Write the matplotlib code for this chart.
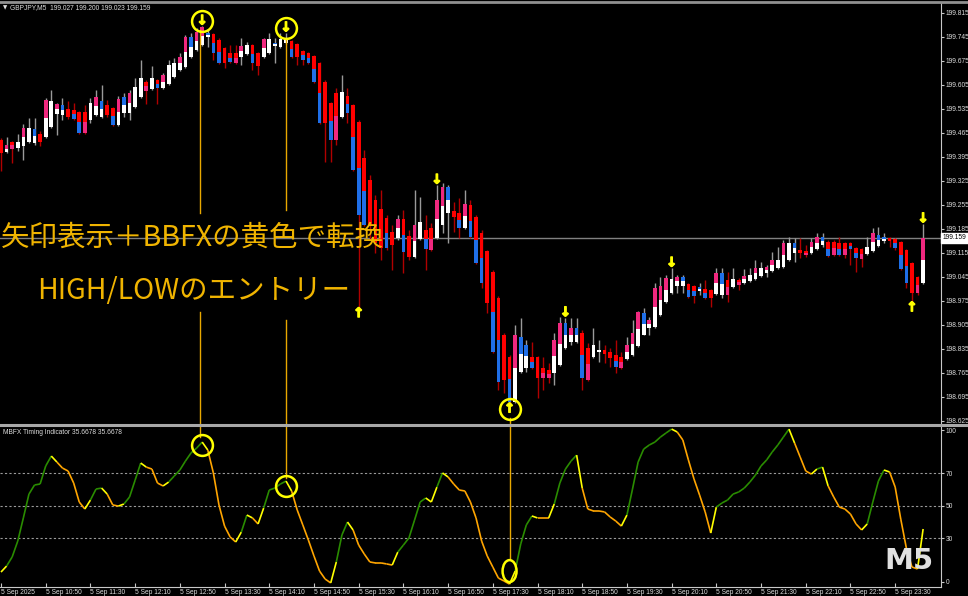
import numpy as np
import matplotlib
matplotlib.use('Agg')
import matplotlib.pyplot as plt
import matplotlib.patheffects as pe
from matplotlib.collections import LineCollection
from matplotlib.patches import Ellipse
from matplotlib.lines import Line2D

plt.rcParams['font.family'] = ['DejaVu Sans']

# GBPJPY M5, 5 Sep 2025 10:10 .. 23:55
opens = [199.445, 199.409, 199.439, 199.421, 199.427, 199.439, 199.436, 199.462, 199.454, 199.483,
         199.520, 199.517, 199.535, 199.532, 199.526, 199.526, 199.503, 199.517, 199.512, 199.547,
         199.538, 199.488, 199.523, 199.523, 199.541, 199.570, 199.614, 199.593, 199.620, 199.596,
         199.608, 199.628, 199.649, 199.658, 199.687, 199.707, 199.722, 199.745, 199.754, 199.736,
         199.713, 199.698, 199.698, 199.687, 199.695, 199.722, 199.698, 199.687, 199.698, 199.719,
         199.716, 199.728, 199.733, 199.725, 199.704, 199.698, 199.690, 199.669, 199.614, 199.552,
         199.582, 199.512, 199.573, 199.547, 199.497, 199.392, 199.328, 199.270, 199.243, 199.217,
         199.176, 199.159, 199.214, 199.165, 199.103, 199.156, 199.182, 199.188, 199.159, 199.197,
         199.232, 199.237, 199.232, 199.188, 199.255, 199.220, 199.174, 199.121, 199.059, 198.984,
         198.876, 198.812, 198.680, 198.768, 198.780, 198.812, 198.812, 198.780, 198.774, 198.765,
         198.788, 198.838, 198.855, 198.855, 198.881, 198.838, 198.812, 198.826, 198.832, 198.826,
         198.817, 198.812, 198.806, 198.817, 198.844, 198.876, 198.896, 198.899, 198.934, 198.972,
         198.998, 199.019, 199.019, 199.025, 199.019, 199.004, 199.010, 199.007, 198.996, 198.993,
         199.036, 199.016, 199.036, 199.028, 199.033, 199.039, 199.048, 199.056, 199.062, 199.071,
         199.074, 199.095, 199.115, 199.124, 199.121, 199.115, 199.127, 199.138, 199.147, 199.147,
         199.144, 199.144, 199.144, 199.130, 199.127, 199.112, 199.121, 199.136, 199.150, 199.159,
         199.156, 199.147, 199.124, 199.086, 199.045, 199.027]
highs = [199.451, 199.454, 199.442, 199.462, 199.491, 199.509, 199.509, 199.471, 199.567, 199.590,
         199.552, 199.567, 199.558, 199.552, 199.529, 199.547, 199.567, 199.590, 199.605, 199.561,
         199.541, 199.573, 199.582, 199.590, 199.626, 199.678, 199.620, 199.660, 199.623, 199.640,
         199.678, 199.684, 199.698, 199.751, 199.757, 199.771, 199.777, 199.765, 199.757, 199.742,
         199.716, 199.722, 199.722, 199.742, 199.730, 199.725, 199.701, 199.742, 199.757, 199.742,
         199.757, 199.757, 199.736, 199.728, 199.707, 199.701, 199.693, 199.672, 199.620, 199.555,
         199.596, 199.634, 199.596, 199.549, 199.503, 199.415, 199.343, 199.284, 199.299, 199.226,
         199.197, 199.226, 199.240, 199.182, 199.299, 199.278, 199.226, 199.203, 199.313, 199.319,
         199.313, 199.264, 199.276, 199.299, 199.270, 199.226, 199.182, 199.124, 199.065, 198.990,
         198.881, 198.817, 198.905, 198.926, 198.861, 198.855, 198.815, 198.812, 198.794, 198.881,
         198.929, 198.926, 198.926, 198.926, 198.890, 198.852, 198.896, 198.861, 198.847, 198.838,
         198.861, 198.826, 198.870, 198.920, 198.946, 198.955, 198.929, 199.028, 199.045, 199.051,
         199.071, 199.051, 199.051, 199.028, 199.022, 199.028, 199.036, 199.010, 199.071, 199.071,
         199.059, 199.071, 199.042, 199.068, 199.071, 199.095, 199.089, 199.080, 199.118, 199.133,
         199.153, 199.162, 199.159, 199.159, 199.138, 199.159, 199.174, 199.174, 199.153, 199.153,
         199.162, 199.147, 199.147, 199.133, 199.130, 199.162, 199.188, 199.191, 199.174, 199.162,
         199.159, 199.150, 199.127, 199.089, 199.048, 199.200]
lows = [199.354, 199.406, 199.377, 199.412, 199.386, 199.436, 199.430, 199.427, 199.451, 199.480,
        199.459, 199.503, 199.506, 199.503, 199.462, 199.462, 199.494, 199.514, 199.509, 199.512,
        199.485, 199.485, 199.512, 199.503, 199.538, 199.567, 199.549, 199.590, 199.549, 199.593,
        199.605, 199.626, 199.646, 199.655, 199.684, 199.704, 199.719, 199.716, 199.678, 199.666,
        199.655, 199.669, 199.666, 199.663, 199.692, 199.649, 199.634, 199.684, 199.695, 199.669,
        199.713, 199.725, 199.684, 199.663, 199.663, 199.666, 199.611, 199.491, 199.380, 199.380,
        199.430, 199.509, 199.494, 199.354, 198.955, 199.194, 199.153, 199.115, 199.095, 199.124,
        199.065, 199.153, 199.056, 199.095, 199.100, 199.153, 199.065, 199.121, 199.156, 199.174,
        199.144, 199.176, 199.159, 199.185, 199.159, 199.083, 199.013, 198.940, 198.823, 198.715,
        198.706, 198.677, 198.677, 198.765, 198.768, 198.777, 198.692, 198.715, 198.736, 198.730,
        198.785, 198.835, 198.847, 198.852, 198.715, 198.742, 198.809, 198.797, 198.794, 198.783,
        198.765, 198.777, 198.803, 198.815, 198.841, 198.876, 198.876, 198.896, 198.931, 198.969,
        198.996, 198.998, 198.998, 198.984, 198.969, 198.993, 198.981, 198.958, 198.993, 198.984,
        198.972, 199.013, 199.007, 199.025, 199.030, 199.036, 199.045, 199.045, 199.059, 199.068,
        199.071, 199.092, 199.089, 199.100, 199.103, 199.112, 199.124, 199.133, 199.103, 199.106,
        199.106, 199.100, 199.080, 199.059, 199.074, 199.109, 199.118, 199.133, 199.144, 199.133,
        199.124, 199.065, 199.013, 198.972, 198.993, 199.023]
closes = [199.406, 199.430, 199.419, 199.439, 199.480, 199.480, 199.477, 199.439, 199.561, 199.558,
          199.549, 199.547, 199.512, 199.506, 199.465, 199.465, 199.552, 199.570, 199.558, 199.517,
          199.488, 199.564, 199.570, 199.582, 199.599, 199.626, 199.588, 199.626, 199.596, 199.634,
          199.663, 199.669, 199.687, 199.745, 199.745, 199.760, 199.774, 199.757, 199.698, 199.669,
          199.669, 199.672, 199.669, 199.719, 199.722, 199.669, 199.660, 199.739, 199.739, 199.728,
          199.739, 199.739, 199.687, 199.687, 199.678, 199.669, 199.614, 199.494, 199.494, 199.445,
          199.445, 199.585, 199.523, 199.357, 199.226, 199.197, 199.197, 199.144, 199.130, 199.130,
          199.138, 199.214, 199.118, 199.103, 199.197, 199.205, 199.127, 199.124, 199.270, 199.307,
          199.307, 199.220, 199.188, 199.258, 199.162, 199.086, 199.028, 198.969, 198.826, 198.739,
          198.745, 198.680, 198.876, 198.870, 198.847, 198.780, 198.751, 198.751, 198.751, 198.861,
          198.911, 198.911, 198.896, 198.896, 198.751, 198.745, 198.847, 198.832, 198.820, 198.809,
          198.783, 198.780, 198.847, 198.881, 198.943, 198.940, 198.920, 199.013, 199.019, 199.042,
          199.039, 199.045, 199.045, 198.987, 198.990, 199.016, 198.984, 198.984, 199.056, 199.056,
          198.993, 199.039, 199.022, 199.048, 199.051, 199.071, 199.071, 199.074, 199.095, 199.095,
          199.144, 199.144, 199.144, 199.115, 199.109, 199.147, 199.162, 199.162, 199.106, 199.109,
          199.109, 199.109, 199.127, 199.100, 199.098, 199.133, 199.174, 199.168, 199.162, 199.150,
          199.130, 199.068, 199.028, 198.998, 198.998, 199.159]
# second colour painted on each candle: p = pink, b = blue, . = none
overlay = (".pp.p.b.p." "pb.bbp.pb." "bpbp..p.bp" "..ppbppbbb" ".bpp.b.p.b"
           "..b.bbbb.b" "p.bbbb...b" ".pb.p.bppp" "b.bpbbb.bb" ".bpbbb.ppp"
           "pbpbbp...." "bppppbpppp" ".pbbbbb.pb" "p.pp.p.pp." "p.b.pppbbp"
           "bpbbp.pbb." "bbb.pp")
mbfx = [9.2, 12.9, 18.5, 28.3, 42.5, 57.2, 62.8, 63.4, 74.5, 80.6,
        76.9, 73.2, 71.4, 64.0, 52.3, 48.0, 53.5, 60.3, 60.9, 57.2,
        50.5, 49.8, 51.1, 55.4, 65.8, 76.3, 73.8, 72.6, 64.0, 62.2,
        64.6, 68.3, 72.0, 77.5, 82.5, 85.5, 89.2, 84.3, 70.2, 50.5,
        37.5, 30.8, 27.7, 33.8, 44.3, 42.5, 38.8, 48.6, 59.7, 60.9,
        63.4, 65.2, 59.1, 47.4, 38.2, 28.9, 19.1, 9.8, 4.9, 2.5,
        15.4, 32.0, 40.0, 35.1, 25.8, 20.3, 15.4, 14.8, 14.8, 14.2,
        13.5, 21.5, 25.8, 30.2, 41.2, 52.3, 54.8, 52.3, 61.5, 70.2,
        67.7, 63.4, 59.7, 59.1, 52.3, 42.5, 28.3, 19.1, 12.3, 5.5,
        3.7, 1.8, 9.8, 26.5, 38.2, 43.7, 42.5, 42.5, 42.5, 51.1,
        64.0, 72.6, 77.5, 81.2, 60.9, 48.0, 46.8, 46.8, 46.2, 43.1,
        40.6, 37.5, 44.3, 60.3, 76.9, 84.9, 87.4, 89.2, 92.3, 94.8,
        97.2, 95.4, 90.5, 78.2, 66.5, 56.6, 46.2, 33.2, 49.2, 51.7,
        53.5, 57.2, 58.5, 60.9, 64.6, 68.9, 74.5, 78.2, 83.1, 87.4,
        92.3, 97.2, 88.6, 80.0, 71.4, 69.5, 72.6, 73.8, 62.2, 55.4,
        49.2, 48.0, 44.9, 38.8, 35.1, 38.8, 52.3, 65.2, 72.0, 70.8,
        61.5, 41.8, 24.0, 12.3, 11.1, 35.7]
down_sig = [36, 51, 78, 101, 120, 165]
up_sig = [64, 91, 163]
circled = [36, 51, 91]
bid = 199.159
price_ticks = [199.815, 199.745, 199.675, 199.605, 199.535, 199.465, 199.395, 199.325, 199.255,
               199.185, 199.115, 199.045, 198.975, 198.905, 198.835, 198.765, 198.695, 198.625]
time_labels = ["5 Sep 2025", "5 Sep 10:50", "5 Sep 11:30", "5 Sep 12:10", "5 Sep 12:50",
               "5 Sep 13:30", "5 Sep 14:10", "5 Sep 14:50", "5 Sep 15:30", "5 Sep 16:10",
               "5 Sep 16:50", "5 Sep 17:30", "5 Sep 18:10", "5 Sep 18:50", "5 Sep 19:30",
               "5 Sep 20:10", "5 Sep 20:50", "5 Sep 21:30", "5 Sep 22:10", "5 Sep 22:50",
               "5 Sep 23:30"]

W, H = 968, 596
fig = plt.figure(figsize=(W / 100, H / 100), dpi=100, facecolor='black')


def px_axes(x0, y0, x1, y1):
    return fig.add_axes([x0 / W, 1 - y1 / H, (x1 - x0) / W, (y1 - y0) / H])


ax = px_axes(0, 3, 941, 424)
axi = px_axes(0, 426, 941, 587)
small = ['Liberation Sans', 'DejaVu Sans']
fs = 4.8
txtc = '#dcdcdc'

for a in (ax, axi):
    a.set_facecolor('black')
    a.set_xlim(-0.18, 168.2)
    for s in a.spines.values():
        s.set_visible(False)
    a.spines['right'].set_visible(True)
    a.spines['right'].set_color('#c8c8c8')
    a.yaxis.tick_right()
    a.tick_params(axis='y', colors='#c8c8c8', labelcolor=txtc, labelsize=fs, length=2.2,
                  width=0.8, pad=1)

# ---- price panel
o = np.array(opens)
h = np.array(highs)
l = np.array(lows)
c = np.array(closes)
x = np.arange(len(o))
bull = c >= o
ax.axhline(bid, color='#808080', lw=1, zorder=0.5)
ax.vlines(x, l, h, colors=np.where(bull, '#9a9a9a', '#b00000'), lw=1, zorder=1)
ax.bar(x, np.maximum(np.abs(c - o), 0.0015), 0.66, np.minimum(o, c),
       color=np.where(bull, 'white', '#ff0000'), lw=0, zorder=2)
for i, ch in enumerate(overlay):
    if ch == '.':
        continue
    mid = (o[i] + c[i]) / 2
    ax.bar(i, c[i] - mid, 0.66, mid, color='#f0287f' if ch == 'p' else '#1f6fe8',
           lw=0, zorder=3)

ax.set_ylim(198.616, 199.844)
ax.set_xticks([])
ax.set_yticks(price_ticks)
ax.set_yticklabels(['%.3f' % p for p in price_ticks], family=small)
ax.text(1.0015, bid, '%.3f' % bid, transform=ax.get_yaxis_transform(), fontsize=fs,
        family=small, color='black', ha='left', va='center',
        bbox=dict(boxstyle='square,pad=0.25', fc='white', ec='white'))

yel = '#ffff00'
thick = [pe.withStroke(linewidth=0.9, foreground=yel)]
for b in down_sig:
    ax.text(b, h[b] + 0.0146, '↓', ha='center', va='center', color=yel, fontsize=9.5,
            fontweight='bold', zorder=5, path_effects=thick)
for b in up_sig:
    ax.text(b, l[b] - 0.017, '↑', ha='center', va='center', color=yel, fontsize=9.5,
            fontweight='bold', zorder=5, path_effects=thick)
ax.plot(circled[:2], h[circled[:2]] + 0.0146, 'o', mfc='none', mec=yel, ms=15, mew=1.8, zorder=6)
ax.plot(circled[2:], l[circled[2:]] - 0.017, 'o', mfc='none', mec=yel, ms=15, mew=1.8, zorder=6)

orange = '#e8a800'
for xx, y0, y1 in [(35.6, 199.232, 199.765), (35.6, 198.616, 198.943),
                   (51.0, 199.240, 199.742), (51.0, 198.616, 198.920),
                   (91.0, 198.616, 198.634)]:
    ax.plot([xx, xx], [y0, y1], color=orange, lw=1, zorder=4)

# ---- MBFX panel
v = np.array(mbfx)
d = np.diff(v)
cols = []
prev = d[0] > 0
for k in range(len(d)):
    up = d[k] > 0 if d[k] != 0 else prev
    cols.append(yel if (up != prev or k == 0) else ('#2a8c00' if up else '#ffa500'))
    prev = up
segs = np.stack([np.column_stack([x[:-1], v[:-1]]), np.column_stack([x[1:], v[1:]])], axis=1)
axi.add_collection(LineCollection(segs, colors=cols, lw=1.2, zorder=3))
for lv in (70, 50, 30):
    axi.axhline(lv, color='#9a9a9a', lw=0.8, ls=(0, (2, 2)), zorder=1)
axi.set_ylim(0, 99.1)
axi.set_yticks([96.6, 70, 50, 30, 3.1])
axi.set_yticklabels(['100', '70', '50', '30', '0'], family=small)
axi.spines['bottom'].set_visible(True)
axi.spines['bottom'].set_color('#c8c8c8')
axi.set_xticks(range(0, 161, 8))
axi.set_xticklabels(time_labels, ha='left', family=small)
axi.tick_params(axis='x', direction='in', length=3, pad=1.5, colors='#c8c8c8',
                labelcolor=txtc, labelsize=fs)

for xx, v1 in [(35.6, 92.3), (51.0, 67.0), (91.0, 17.8)]:
    axi.plot([xx, xx], [v1, 99.1], color=orange, lw=1, zorder=4)
axi.plot([36, 51], [v[36] - 1.5, v[51] - 3], 'o', mfc='none', mec=yel, ms=15, mew=1.8, zorder=6)
axi.add_patch(Ellipse((91, 9.8), 2.5, 13.5, fill=False, ec=yel, lw=1.8, zorder=6))

# ---- frame lines and texts
fig.add_artist(Line2D([0, 1], [1 - 1.5 / H] * 2, color='#909090', lw=2))
fig.add_artist(Line2D([0, 1], [1 - 424.8 / H] * 2, color='#a8a8a8', lw=2.2))

fig.text(3 / W, 1 - 8 / H, '▼', fontsize=4, color=txtc, va='center')
fig.text(10 / W, 1 - 8 / H, 'GBPJPY,M5  199.027 199.200 199.023 199.159', fontsize=4.8,
         family=small, color=txtc, va='center')
fig.text(3 / W, 1 - 432 / H, 'MBFX Timing Indicator 35.6678 35.6678', fontsize=4.8,
         family=small, color=txtc, va='center')

jp = ['Noto Sans CJK JP', 'DejaVu Sans']
fig.text(1 / W, 1 - 238 / H, '矢印表示＋BBFXの黄色で転換', fontsize=20.5, color='#f0b400',
         family=jp, va='center')
fig.text(37 / W, 1 - 291 / H, 'HIGH/LOWのエントリー', fontsize=20.5, color='#f0b400',
         family=jp, va='center')
fig.text(909 / W, 1 - 561 / H, 'M5', fontsize=21, fontweight='bold', color='#e0e0e0',
         ha='center', va='center')

fig.savefig('out.png', dpi=100, facecolor='black')
